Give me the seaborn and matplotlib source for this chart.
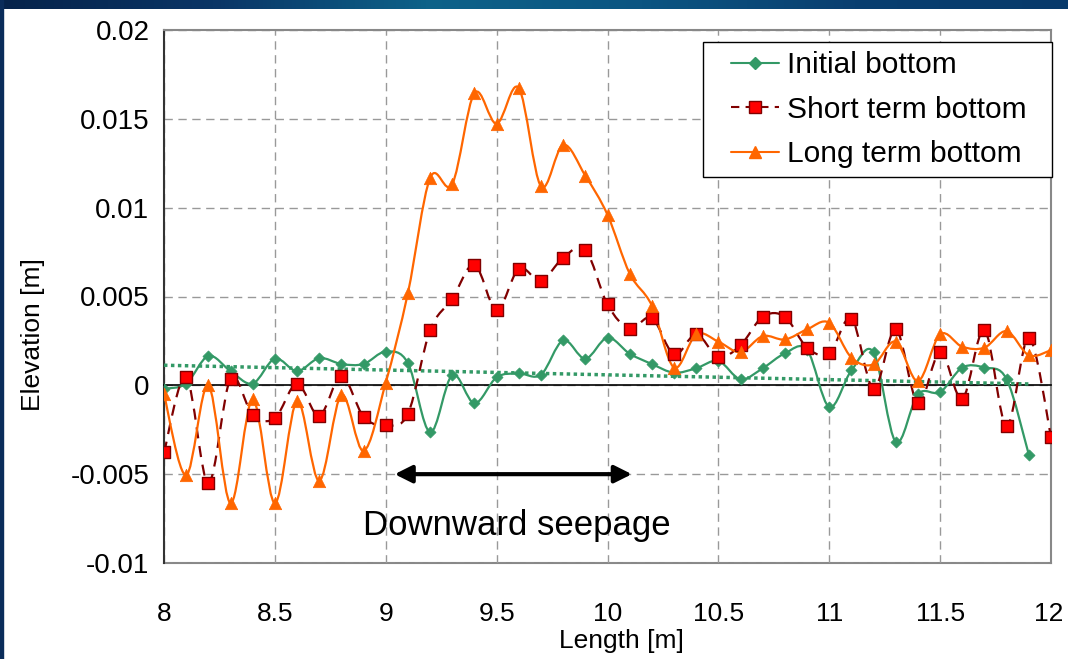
import numpy as np
import matplotlib
matplotlib.use("Agg")
import matplotlib.pyplot as plt
import seaborn as sns
from matplotlib.path import Path
from matplotlib.patches import PathPatch, Rectangle
from matplotlib.lines import Line2D
from matplotlib.legend_handler import HandlerLine2D
from matplotlib.ticker import MultipleLocator, FuncFormatter
from matplotlib.colors import LinearSegmentedColormap

# Data (length in m, elevation in m)
length = [8.0, 8.1, 8.2, 8.3, 8.4, 8.5, 8.6, 8.7, 8.8, 8.9,
          9.0, 9.1, 9.2, 9.3, 9.4, 9.5, 9.6, 9.7, 9.8, 9.9,
          10.0, 10.1, 10.2, 10.3, 10.4, 10.5, 10.6, 10.7, 10.8, 10.9,
          11.0, 11.1, 11.2, 11.3, 11.4, 11.5, 11.6, 11.7, 11.8, 11.9, 12.0]

initial_bottom = [-0.0002, 0.0001, 0.00165, 0.0008, 0.0001, 0.0015, 0.0008, 0.00153, 0.0012, 0.0012,
                  0.0019, 0.00125, -0.00264, 0.00058, -0.00101, 0.00045, 0.00067, 0.0006, 0.00253, 0.0015,
                  0.00268, 0.00178, 0.0012, 0.00071, 0.00096, 0.00137, 0.00034, 0.00096, 0.0018, 0.002,
                  -0.00122, 0.00084, 0.00185, -0.00318, -0.0005, -0.00038, 0.001, 0.001, 0.00034, -0.0039]

short_term_bottom = [-0.00378, 0.00047, -0.0055, 0.00037, -0.00167, -0.00185, 0.0001, -0.00172, 0.00052, -0.00176,
                     -0.00225, -0.0016, 0.0031, 0.00487, 0.0068, 0.00423, 0.00657, 0.00588, 0.00718, 0.00764,
                     0.00455, 0.00319, 0.0038, 0.00174, 0.00287, 0.00159, 0.00226, 0.00386, 0.00386, 0.00212,
                     0.0018, 0.00376, -0.00019, 0.00315, -0.00101, 0.00189, -0.00075, 0.00311, -0.00229, 0.00268,
                     -0.00288]

long_term_bottom = [-0.0005, -0.00506, 0.0, -0.00663, -0.00079, -0.00663, -0.00088, -0.00537, -0.00054, -0.00369,
                    0.00015, 0.0052, 0.01167, 0.01133, 0.01645, 0.01472, 0.01673, 0.0112, 0.01354, 0.0118,
                    0.0096, 0.00629, 0.00449, 0.001, 0.00287, 0.00246, 0.00187, 0.00277, 0.00258, 0.00315,
                    0.00352, 0.00156, 0.00118, 0.00246, 0.00024, 0.00287, 0.00217, 0.00212, 0.00305, 0.00169,
                    0.00198]

series_labels = ["Initial bottom", "Short term bottom", "Long term bottom"]

# seepage annotation
seepage_start = 9.04
seepage_end = 10.11
seepage_level = -0.005
seepage_text_pos = (9.59, -0.0079)

X_MIN, X_MAX = 8, 12

GREEN = "#339966"
DARK_RED = "#800000"
RED = "#ff0000"
ORANGE = "#ff6600"


def smooth_path(x, y):
    """Excel-like smoothed line: Catmull-Rom segments as cubic Bezier curves."""
    pts = np.column_stack([x, y])
    n = len(pts)
    verts = [pts[0]]
    codes = [Path.MOVETO]
    for i in range(n - 1):
        p0 = pts[max(i - 1, 0)]
        p1 = pts[i]
        p2 = pts[i + 1]
        p3 = pts[min(i + 2, n - 1)]
        verts += [p1 + (p2 - p0) / 6, p2 - (p3 - p1) / 6, p2]
        codes += [Path.CURVE4] * 3
    return Path(verts, codes)


def num(v):
    return f"{round(v, 6) + 0:g}"


sns.set_style("white")
plt.rcParams['font.family'] = ['Liberation Sans', 'DejaVu Sans']
plt.rcParams.update({"text.color": "black", "axes.labelcolor": "black",
                     "xtick.color": "black", "ytick.color": "black"})

fig = plt.figure(figsize=(10.68, 6.59), dpi=100)
ax = fig.add_axes([164 / 1068, 1 - 563 / 659, 887 / 1068, 533 / 659])

x_init = length[:len(initial_bottom)]

# smoothed lines
ax.add_patch(PathPatch(smooth_path(x_init, initial_bottom), fc="none", ec=GREEN, lw=1.6, zorder=3))
ax.add_patch(PathPatch(smooth_path(length, short_term_bottom), fc="none", ec=DARK_RED, lw=1.6,
                       ls=(0, (5, 3.5)), zorder=3))
ax.add_patch(PathPatch(smooth_path(length, long_term_bottom), fc="none", ec=ORANGE, lw=1.6, zorder=3))

# linear trend of the initial bottom
sns.regplot(x=x_init, y=initial_bottom, scatter=False, ci=None, truncate=True, color=GREEN,
            line_kws=dict(ls=(0, (1, 1)), lw=2.5, zorder=2.6), ax=ax)

# markers
sns.scatterplot(x=x_init, y=initial_bottom, marker="D", s=32, color=GREEN, edgecolor=GREEN,
                linewidth=0.5, zorder=4, ax=ax, legend=False)
sns.scatterplot(x=length, y=short_term_bottom, marker="s", s=68, color=RED, edgecolor=DARK_RED,
                linewidth=1.0, zorder=4, ax=ax, legend=False)
sns.scatterplot(x=length, y=long_term_bottom, marker="^", s=80, color=ORANGE, edgecolor=ORANGE,
                linewidth=0.5, zorder=4, ax=ax, legend=False)

# axes
ax.set_xlim(X_MIN, X_MAX)
ax.set_ylim(-0.01, 0.02)
ax.xaxis.set_major_locator(MultipleLocator(0.5))
ax.yaxis.set_major_locator(MultipleLocator(0.005))
ax.yaxis.set_major_formatter(FuncFormatter(lambda v, _: num(v)))
ax.grid(True, color="#999999", ls=(0, (6, 4)), lw=1)
ax.set_axisbelow(True)

ax.spines["bottom"].set_position(("data", 0))
ax.spines["bottom"].set_color("black")
ax.spines["bottom"].set_linewidth(1.2)
ax.spines["bottom"].set_zorder(2.5)
ax.spines["left"].set_color("#333333")
ax.spines["left"].set_linewidth(1.5)
for side in ["top", "right"]:
    ax.spines[side].set_color("#888888")
    ax.spines[side].set_linewidth(1.5)

ax.tick_params(axis="x", direction="out", length=7, width=1.2, color="black", labelbottom=False)
ax.tick_params(axis="y", direction="out", length=4.5, width=1.0, color="#333333", labelsize=20, pad=6)
ax.set_ylabel("Elevation [m]", fontsize=19)
ax.yaxis.set_label_coords(-0.134, 0.428)
ax.set_xlabel("Length [m]", fontsize=19, va="top")
ax.xaxis.set_label_coords(0.516, -0.124)

# tick labels along the bottom border (the last one is nudged in from the edge)
sec = ax.secondary_xaxis("bottom")
sec.xaxis.set_major_locator(MultipleLocator(0.5))
sec.xaxis.set_major_formatter(FuncFormatter(lambda v, _: "" if v >= X_MAX else num(v)))
sec.tick_params(length=0, labelsize=19, pad=28)
sec.spines["bottom"].set_color("#888888")
sec.spines["bottom"].set_linewidth(1.5)
ax.annotate(num(X_MAX), xy=(X_MAX, 0), xycoords=ax.get_xaxis_transform(),
            xytext=(9, -28), textcoords="offset points", ha="right", va="top",
            fontsize=19, annotation_clip=False)

# legend
handles = [
    Line2D([], [], color=GREEN, lw=1.5, marker="D", markersize=6, mec=GREEN),
    Line2D([], [], color=DARK_RED, lw=1.5, ls=(0, (4, 3)), marker="s", markersize=8,
           mfc=RED, mec=DARK_RED),
    Line2D([], [], color=ORANGE, lw=1.5, marker="^", markersize=9, mec=ORANGE),
]
leg = ax.legend(handles, series_labels, loc="upper right",
                bbox_to_anchor=(539 / 887, 0.0, 349 / 887, 0.977), mode="expand",
                borderaxespad=0, fontsize=21.5, frameon=True, fancybox=False, borderpad=0.3,
                labelspacing=0.55, handlelength=2.24, handletextpad=0.27,
                handler_map={Line2D: HandlerLine2D(xpad=0.64)})
leg.get_frame().set_edgecolor("black")
leg.get_frame().set_linewidth(1.0)
leg.get_frame().set_alpha(1)
leg.set_zorder(5)

# downward seepage arrow and label
ax.annotate("", xy=(seepage_start, seepage_level), xytext=(seepage_end, seepage_level),
            arrowprops=dict(arrowstyle="<|-|>", color="black", lw=3, mutation_scale=26,
                            shrinkA=0, shrinkB=0), zorder=5)
ax.text(*seepage_text_pos, "Downward seepage", ha="center", va="center", fontsize=25, zorder=5)

# slide frame: gradient band on top and a thin strip on the left
band = fig.add_axes([0, 1 - 9 / 659, 1, 9 / 659])
band_cmap = LinearSegmentedColormap.from_list(
    "band", ["#06234a", "#0a3566", "#0d6289", "#0b5582", "#093f70", "#083a6b"])
band.imshow(np.linspace(0, 1, 256)[None, :], aspect="auto", cmap=band_cmap)
band.axis("off")
fig.add_artist(Rectangle((0, 0), 3 / 1068, 1, transform=fig.transFigure, color="#0a2c5a", zorder=10))

fig.savefig("out.png", dpi=100)
